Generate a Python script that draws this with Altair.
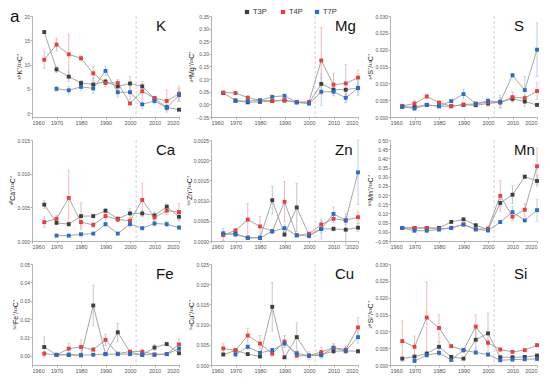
import altair as alt
import pandas as pd

years = [1965, 1970, 1975, 1980, 1985, 1990, 1995, 2000, 2005, 2010, 2015, 2020]
series_names = ["T3P", "T4P", "T7P"]
point_colors = ["#3f3f3f", "#e5403f", "#2a6cc6"]
err_colors = ["#b8b8b8", "#f2a6a6", "#a6c4ec"]
x_ticks = [1960, 1970, 1980, 1990, 2000, 2010, 2020]
event_year = [2002.5]
legend_x = [36, 72, 106]  # pixel offsets of the legend keys inside the Mg panel

# ---- K ----
K_T3P = [16.7, 9.0, 7.5, 6.2, 5.9, 6.5, 5.5, 6.1, 5.5, 3.0, 1.2, 0.7]
K_T3P_err = [0, 0.6, 1.0, 0.5, 1.2, 0.5, 0.6, 1.5, 1.0, 0.4, 0.5, 0.2]
K_T4P = [11.0, 14.1, 12.1, 11.3, 8.2, 6.2, 6.2, 2.0, 4.5, 3.1, 2.5, 4.0]
K_T4P_err = [1.8, 1.3, 4.2, 0.5, 1.5, 0.7, 0.7, 0.3, 1.5, 0.4, 2.3, 1.6]
K_T7P = [None, 5.0, 4.7, 5.4, 5.1, 8.7, 4.3, 4.3, 1.8, 2.5, 1.1, 3.7]
K_T7P_err = [0, 0.5, 0.8, 0.7, 1.0, 1.0, 1.0, 1.5, 0.9, 0.6, 0.6, 1.3]

# ---- Mg ----
Mg_T3P = [0.045, 0.016, 0.008, 0.010, 0.013, 0.015, 0.008, 0.005, 0.081, 0.058, 0.058, 0.065]
Mg_T3P_err = [0.003, 0.004, 0.003, 0.003, 0.003, 0.004, 0.002, 0.002, 0.04, 0.01, 0.02, 0.02]
Mg_T4P = [0.047, 0.045, 0.027, 0.016, 0.014, 0.017, 0.009, 0.010, 0.174, 0.078, 0.083, 0.106]
Mg_T4P_err = [0.004, 0.005, 0.004, 0.003, 0.003, 0.004, 0.002, 0.003, 0.13, 0.045, 0.075, 0.03]
Mg_T7P = [None, 0.013, 0.013, 0.016, 0.030, 0.034, 0.008, 0.003, 0.050, 0.050, 0.026, 0.064]
Mg_T7P_err = [0, 0.004, 0.004, 0.003, 0.003, 0.004, 0.002, 0.002, 0.055, 0.015, 0.02, 0.03]

# ---- S ----
S_T3P = [0.0030, 0.0030, 0.0036, 0.0032, 0.0032, 0.0036, 0.0035, 0.0040, 0.0044, 0.0054, 0.0046, 0.0036]
S_T3P_err = [0.0003, 0.0003, 0.0004, 0.0003, 0.0003, 0.0004, 0.0004, 0.0008, 0.0008, 0.0008, 0.0015, 0.0004]
S_T4P = [0.0033, 0.0040, 0.0061, 0.0043, 0.0032, 0.0037, 0.0039, 0.0044, 0.0043, 0.0059, 0.0056, 0.0077]
S_T4P_err = [0.0004, 0.0010, 0.0005, 0.0004, 0.0004, 0.0005, 0.0005, 0.0006, 0.0015, 0.0015, 0.0010, 0.0025]
S_T7P = [0.0031, 0.0025, 0.0036, 0.0032, 0.0047, 0.0068, 0.0040, 0.0048, 0.0045, 0.0124, 0.0080, 0.0200]
S_T7P_err = [0.0003, 0.0003, 0.0004, 0.0003, 0.0004, 0.0015, 0.0004, 0.0008, 0.0020, 0.0006, 0.0040, 0.0080]

# ---- Ca ----
Ca_T3P = [0.0054, 0.0027, 0.0025, 0.0037, 0.0037, 0.0045, 0.0033, 0.0041, 0.0041, 0.0038, 0.0051, 0.0036]
Ca_T3P_err = [0.0006, 0.0003, 0.0003, 0.0020, 0.0003, 0.0003, 0.0003, 0.0007, 0.0004, 0.0005, 0.0004, 0.0005]
Ca_T4P = [0.0028, 0.0033, 0.0064, 0.0028, 0.0024, 0.0037, 0.0032, 0.0030, 0.0061, 0.0035, 0.0045, 0.0043]
Ca_T4P_err = [0.0008, 0.0005, 0.0041, 0.0007, 0.0004, 0.0006, 0.0003, 0.0005, 0.0025, 0.0004, 0.0006, 0.0013]
Ca_T7P = [None, 0.0008, 0.0008, 0.0010, 0.0011, 0.0025, 0.0011, 0.0025, 0.0019, 0.0026, 0.0025, 0.0020]
Ca_T7P_err = [0, 0.0001, 0.0001, 0.0001, 0.0001, 0.0003, 0.0001, 0.0005, 0.0002, 0.0004, 0.0004, 0.0003]

# ---- Zn ----
Zn_T3P = [0.00016, 0.00018, 0.00008, 0.00008, 0.00101, 0.00016, 0.00083, 0.00015, 0.00030, 0.00030, 0.00028, 0.00033]
Zn_T3P_err = [0.00015, 0.00005, 0.00003, 0.00003, 0.00035, 0.00005, 0.0006, 0.00003, 0.0001, 0.00005, 0.0004, 0.0001]
Zn_T4P = [0.00015, 0.00026, 0.00053, 0.00036, 0.00024, 0.00097, 0.00014, 0.00018, 0.00041, 0.00055, 0.00051, 0.00059]
Zn_T4P_err = [0.00005, 0.00005, 0.00040, 0.00025, 0.00005, 0.00050, 0.00003, 0.00003, 0.0001, 0.00010, 0.00010, 0.00015]
Zn_T7P = [0.00019, 0.00016, 0.00008, 0.00008, 0.00024, 0.00032, 0.00014, 0.00012, 0.00030, 0.00067, 0.00051, 0.00170]
Zn_T7P_err = [0.00005, 0.00005, 0.00003, 0.00003, 0.00005, 0.00008, 0.00003, 0.00003, 0.00025, 0.00017, 0.00005, 0.00080]

# ---- Mn ----
Mn_T3P = [0.021, 0.021, 0.021, 0.021, 0.054, 0.068, 0.036, 0.012, 0.157, 0.202, 0.300, 0.277]
Mn_T3P_err = [0.003, 0.003, 0.003, 0.003, 0.005, 0.005, 0.004, 0.003, 0.02, 0.05, 0.01, 0.03]
Mn_T4P = [0.021, 0.021, 0.021, 0.016, 0.022, 0.040, 0.013, 0.018, 0.196, 0.082, 0.120, 0.357]
Mn_T4P_err = [0.003, 0.003, 0.003, 0.003, 0.003, 0.005, 0.003, 0.003, 0.085, 0.02, 0.035, 0.10]
Mn_T7P = [0.021, 0.006, 0.006, 0.012, 0.021, 0.040, 0.014, 0.007, 0.053, 0.107, 0.062, 0.118]
Mn_T7P_err = [0.003, 0.002, 0.002, 0.002, 0.003, 0.005, 0.003, 0.002, 0.005, 0.03, 0.005, 0.06]

# ---- Fe ----
Fe_T3P = [0.0048, 0.0005, 0.0005, 0.0003, 0.0274, 0.0009, 0.0128, 0.0020, 0.0005, 0.0045, 0.0064, 0.0014]
Fe_T3P_err = [0.0055, 0.0003, 0.0003, 0.0002, 0.0110, 0.0005, 0.0050, 0.0005, 0.0003, 0.0015, 0.0010, 0.0005]
Fe_T4P = [0.0012, 0.0005, 0.0039, 0.0048, 0.0034, 0.0087, 0.0012, 0.0023, 0.0023, 0.0008, 0.0010, 0.0062]
Fe_T4P_err = [0.0010, 0.0003, 0.0030, 0.0040, 0.0010, 0.0030, 0.0005, 0.0005, 0.0005, 0.0003, 0.0003, 0.0030]
Fe_T7P = [None, 0.0006, 0.0007, 0.0003, 0.0006, 0.0009, 0.0009, 0.0009, 0.0007, 0.0005, 0.0009, 0.0039]
Fe_T7P_err = [0, 0.0002, 0.0002, 0.0002, 0.0002, 0.0003, 0.0003, 0.0003, 0.0002, 0.0002, 0.0002, 0.0010]

# ---- Cu ----
Cu_T3P = [0.0026, 0.0036, 0.0027, 0.0021, 0.0144, 0.0019, 0.0069, 0.0023, 0.0026, 0.0034, 0.0035, 0.0034]
Cu_T3P_err = [0.0003, 0.0004, 0.0003, 0.0003, 0.0060, 0.0003, 0.0035, 0.0003, 0.0004, 0.0005, 0.0005, 0.0004]
Cu_T4P = [0.0041, 0.0036, 0.0073, 0.0053, 0.0028, 0.0058, 0.0023, 0.0023, 0.0032, 0.0043, 0.0038, 0.0093]
Cu_T4P_err = [0.0012, 0.0006, 0.0017, 0.0020, 0.0005, 0.0015, 0.0004, 0.0010, 0.0012, 0.0010, 0.0010, 0.0025]
Cu_T7P = [None, 0.0026, 0.0045, 0.0030, 0.0037, 0.0053, 0.0029, 0.0023, 0.0024, 0.0042, 0.0035, 0.0069]
Cu_T7P_err = [0, 0.0004, 0.0006, 0.0004, 0.0005, 0.0008, 0.0005, 0.0004, 0.0008, 0.0008, 0.0006, 0.0015]

# ---- Si ----
Si_T3P = [0.0019, 0.0025, 0.0034, 0.0054, 0.0024, 0.0019, 0.0075, 0.0094, 0.0023, 0.0023, 0.0024, 0.0028]
Si_T3P_err = [0.0004, 0.0004, 0.0006, 0.0015, 0.0004, 0.0004, 0.0030, 0.0060, 0.0004, 0.0004, 0.0004, 0.0004]
Si_T4P = [0.0071, 0.0054, 0.0141, 0.0110, 0.0056, 0.0044, 0.0114, 0.0066, 0.0046, 0.0039, 0.0044, 0.0059]
Si_T4P_err = [0.0060, 0.0032, 0.0107, 0.0040, 0.0005, 0.0005, 0.0035, 0.0010, 0.0005, 0.0004, 0.0004, 0.0005]
Si_T7P = [None, 0.0012, 0.0029, 0.0036, 0.0015, 0.0044, 0.0037, 0.0031, 0.0014, 0.0016, 0.0017, 0.0018]
Si_T7P_err = [0, 0.0003, 0.0005, 0.0008, 0.0003, 0.0006, 0.0005, 0.0005, 0.0003, 0.0003, 0.0003, 0.0003]

W, H = 147, 101
FONT = "Liberation Sans"

color_scale = alt.Scale(domain=series_names, range=point_colors)
err_scale = alt.Scale(domain=series_names, range=err_colors)


def make_df(vals, errs):
    rows = []
    for s, v, e in zip(series_names, vals, errs):
        for yr, vv, ee in zip(years, v, e):
            if vv is None:
                continue
            rows.append(dict(year=yr, series=s, value=vv, lo=vv - ee, hi=vv + ee, err=ee))
    return pd.DataFrame(rows)


def panel(label, title, domain, ticks, fmt, vals, errs, tag=None, with_legend=False):
    df = make_df(vals, errs)
    xenc = alt.X("year:Q", scale=alt.Scale(domain=[1960, 2020], nice=False, zero=False),
                 axis=alt.Axis(values=x_ticks, format="d", title=None))
    yscale = alt.Scale(domain=domain, nice=False, zero=False)
    yax = alt.Axis(values=ticks, format=fmt, title=title)
    base = alt.Chart(df)
    vline = alt.Chart(pd.DataFrame({"year": event_year})).mark_rule(
        strokeDash=[3, 2], color="#c4c4c4", strokeWidth=0.8).encode(x=xenc)
    ebase = base.transform_filter("datum.err > 0")
    rules = ebase.mark_rule(strokeWidth=0.8).encode(
        x=xenc, y=alt.Y("lo:Q", scale=yscale, axis=yax), y2="hi:Q",
        stroke=alt.Stroke("series:N", scale=err_scale, legend=None))
    cap_lo = ebase.mark_tick(orient="horizontal", size=3, thickness=0.7).encode(
        x=xenc, y=alt.Y("lo:Q", scale=yscale, axis=yax),
        fill=alt.Fill("series:N", scale=err_scale, legend=None))
    cap_hi = ebase.mark_tick(orient="horizontal", size=3, thickness=0.7).encode(
        x=xenc, y=alt.Y("hi:Q", scale=yscale, axis=yax),
        fill=alt.Fill("series:N", scale=err_scale, legend=None))
    lines = base.mark_line(color="#9c9c9c", strokeWidth=0.9).encode(
        x=xenc, y=alt.Y("value:Q", scale=yscale, axis=yax), detail="series:N")
    pts = base.mark_square(size=15, opacity=1).encode(
        x=xenc, y=alt.Y("value:Q", scale=yscale, axis=yax),
        color=alt.Color("series:N", scale=color_scale, legend=None))
    lab = alt.Chart(pd.DataFrame({"t": [label]})).mark_text(
        align="left", baseline="alphabetic", fontSize=15, font=FONT, color="#111").encode(
        x=alt.value(124), y=alt.value(15), text="t:N")
    layers = [vline, rules, cap_lo, cap_hi, lines, pts, lab]
    if tag:
        layers.append(alt.Chart(pd.DataFrame({"t": [tag]})).mark_text(
            align="left", baseline="alphabetic", fontSize=17, font=FONT, color="#111").encode(
            x=alt.value(-22), y=alt.value(6), text="t:N"))
    if with_legend:
        ldf = pd.DataFrame({"series": series_names, "lx": legend_x,
                            "tx": [v + 6 for v in legend_x]})
        lchart = alt.Chart(ldf)
        layers.append(lchart.mark_square(size=18, opacity=1).encode(
            x=alt.X("lx:Q", scale=None), y=alt.value(-4),
            color=alt.Color("series:N", scale=color_scale, legend=None)))
        layers.append(lchart.mark_text(align="left", baseline="middle", fontSize=7.5,
                                       font=FONT, color="#333").encode(
            x=alt.X("tx:Q", scale=None), y=alt.value(-4), text="series:N"))
    return alt.layer(*layers).properties(width=W, height=H)


def seq(a, step, n):
    return [round(a + i * step, 6) for i in range(n)]


panels = [
    panel("K", "³⁹K⁺/¹³C⁺", [-0.8, 20], [0, 5, 10, 15, 20], "d",
          [K_T3P, K_T4P, K_T7P], [K_T3P_err, K_T4P_err, K_T7P_err], tag="a"),
    panel("Mg", "²⁴Mg⁺/¹³C⁺", [-0.05, 0.35], seq(-0.05, 0.05, 9), ".2f",
          [Mg_T3P, Mg_T4P, Mg_T7P], [Mg_T3P_err, Mg_T4P_err, Mg_T7P_err], with_legend=True),
    panel("S", "³⁴S⁺/¹³C⁺", [0, 0.03], seq(0, 0.005, 7), ".3f",
          [S_T3P, S_T4P, S_T7P], [S_T3P_err, S_T4P_err, S_T7P_err]),
    panel("Ca", "⁴⁰Ca⁺/¹³C⁺", [0, 0.015], seq(0, 0.005, 4), ".3f",
          [Ca_T3P, Ca_T4P, Ca_T7P], [Ca_T3P_err, Ca_T4P_err, Ca_T7P_err]),
    panel("Zn", "⁶⁶Zn⁺/¹³C⁺", [0, 0.0025], seq(0, 0.0005, 6), ".4f",
          [Zn_T3P, Zn_T4P, Zn_T7P], [Zn_T3P_err, Zn_T4P_err, Zn_T7P_err]),
    panel("Mn", "⁵⁵Mn⁺/¹³C⁺", [-0.05, 0.5], seq(-0.05, 0.05, 12), ".2f",
          [Mn_T3P, Mn_T4P, Mn_T7P], [Mn_T3P_err, Mn_T4P_err, Mn_T7P_err]),
    panel("Fe", "⁵⁶Fe⁺/¹³C⁺", [-0.005, 0.05], seq(0, 0.01, 6), ".2f",
          [Fe_T3P, Fe_T4P, Fe_T7P], [Fe_T3P_err, Fe_T4P_err, Fe_T7P_err]),
    panel("Cu", "⁶³Cu⁺/¹³C⁺", [0, 0.025], seq(0, 0.005, 6), ".3f",
          [Cu_T3P, Cu_T4P, Cu_T7P], [Cu_T3P_err, Cu_T4P_err, Cu_T7P_err]),
    panel("Si", "²⁸Si⁺/¹³C⁺", [0, 0.03], seq(0, 0.005, 7), ".3f",
          [Si_T3P, Si_T4P, Si_T7P], [Si_T3P_err, Si_T4P_err, Si_T7P_err]),
]

chart = alt.ConcatChart(
    concat=panels, columns=3, spacing=alt.RowColnumber(row=23, column=32),
    bounds="flush", padding={"left": 0, "top": 0, "right": 0, "bottom": 0},
).configure_view(stroke=None).configure_axis(
    grid=False, domainColor="#a0a0a0", tickColor="#a0a0a0", tickSize=2,
    labelColor="#555", labelFontSize=5.5, labelFont=FONT, labelPadding=1,
    titleFont=FONT, titleFontSize=7, titleFontWeight="normal", titleColor="#222",
    titlePadding=1, domainWidth=0.8, tickWidth=0.8,
).configure_axisY(labelFontSize=5, labelPadding=0.5)

chart.save("out.html", embed_options={"renderer": "svg", "actions": False})
